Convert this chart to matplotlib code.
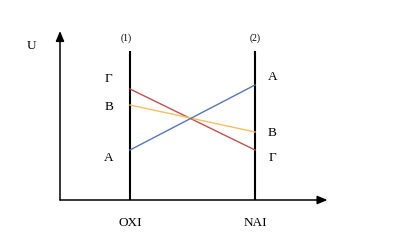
import matplotlib.pyplot as plt

# уровни энергии в двух точках (OXI и NAI), в условных единицах U
points = ['OXI', 'NAI']
x_pos = [1, 2]
levels = ['Γ', 'B', 'A']
u_left = [11.1, 9.5, 5.0]    # слева, на линии (1)
u_right = [5.0, 6.8, 11.5]   # справа, на линии (2)
colors = ['#c0504d', '#f2c25c', '#5877b0']
label_left_u = [12.2, 9.4, 4.3]
label_right_u = [4.3, 6.8, 12.4]

plt.rcParams['font.family'] = ['Liberation Serif', 'DejaVu Serif']

fig = plt.figure(figsize=(4, 2.53), dpi=100)
ax = fig.add_axes([0, 0, 1, 1])
ax.set_xlim(-0.04, 3.16)
ax.set_ylim(-5.2, 20.1)
ax.axis('off')

# оси
ax.annotate('', xy=(0.44, 16.9), xytext=(0.44, 0),
            arrowprops=dict(arrowstyle='-|>,head_length=0.6,head_width=0.25',
                            color='black', lw=1.1, shrinkA=0, shrinkB=0))
ax.annotate('', xy=(2.58, 0), xytext=(0.44, 0),
            arrowprops=dict(arrowstyle='-|>,head_length=0.6,head_width=0.25',
                            color='black', lw=1.1, shrinkA=0, shrinkB=0))
ax.text(0.21, 15.5, 'U', fontsize=9.5, ha='center', va='center')

# вертикальные линии (1) и (2)
for i, x in enumerate(x_pos):
    ax.plot([x, x], [0, 14.9], color='black', lw=1.5, solid_capstyle='butt')
    ax.text(x - 0.03 if i == 0 else x, 16.3, '(%d)' % (i + 1), fontsize=7,
            ha='center', va='center')
    ax.text(x, -2.2, points[i], fontsize=9.5, ha='center', va='center')

# линии уровней
for ul, ur, c in zip(u_left, u_right, colors):
    ax.plot(x_pos, [ul, ur], color=c, lw=1.0)

for lab, ul, ur in zip(levels, label_left_u, label_right_u):
    ax.text(x_pos[0] - 0.17, ul, lab, fontsize=9.5, ha='center', va='center')
    ax.text(x_pos[1] + 0.14, ur, lab, fontsize=9.5, ha='center', va='center')

fig.savefig('out.png', dpi=100)
